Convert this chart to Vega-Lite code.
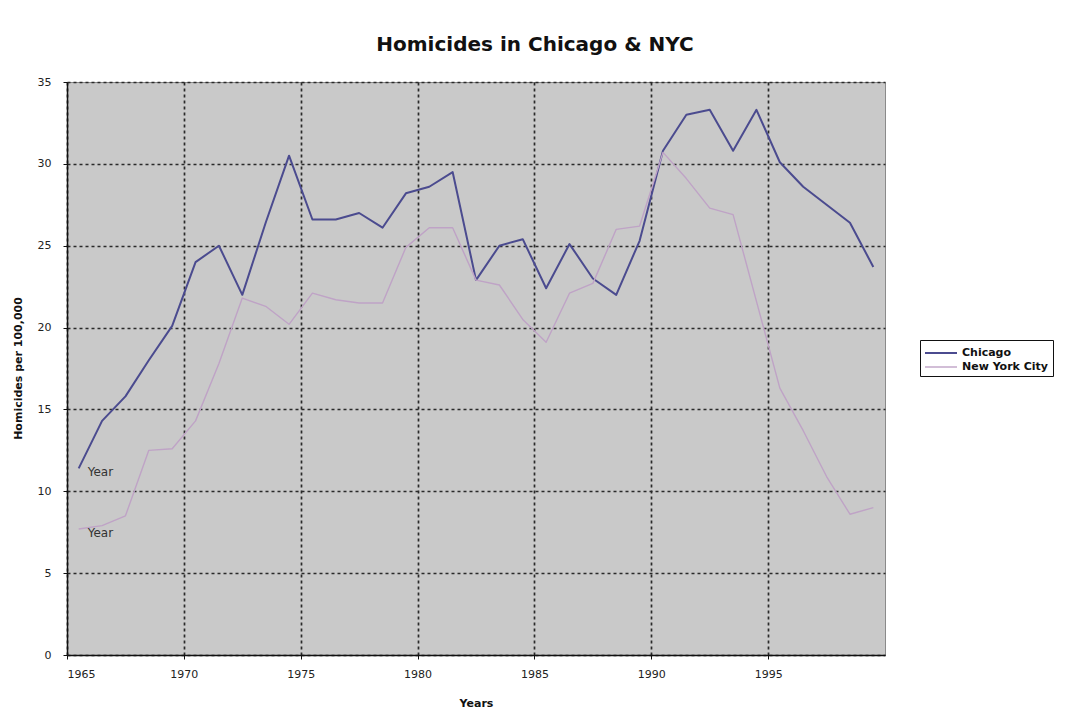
{
  "$schema": "https://vega.github.io/schema/vega-lite/v6.json",
  "autosize": "none",
  "width": 818,
  "height": 573,
  "padding": {"left": 67, "top": 82, "right": 180, "bottom": 58},
  "background": "white",
  "title": {
    "text": "Homicides in Chicago & NYC",
    "font": "DejaVu Sans",
    "fontSize": 20,
    "fontWeight": "bold",
    "color": "#111",
    "anchor": "middle",
    "dx": 59,
    "offset": 21
  },
  "config": {
    "view": {"fill": "#c9c9c9", "stroke": "#8a8a8a", "strokeWidth": 1},
    "axis": {
      "labelFont": "DejaVu Sans",
      "labelFontSize": 11,
      "labelColor": "#222",
      "titleFont": "DejaVu Sans",
      "titleFontSize": 11,
      "titleFontWeight": "bold",
      "titleColor": "#111",
      "domainColor": "#111",
      "domainWidth": 1.5,
      "tickColor": "#111",
      "tickSize": 4,
      "gridColor": "#2a2a2a",
      "gridWidth": 1.7,
      "gridDash": [3, 3],
      "gridOpacity": 1
    }
  },
  "data": {
    "values": [
      {"year": 1965, "city": "Chicago", "rate": 11.4},
      {"year": 1966, "city": "Chicago", "rate": 14.3},
      {"year": 1967, "city": "Chicago", "rate": 15.8},
      {"year": 1968, "city": "Chicago", "rate": 18.0},
      {"year": 1969, "city": "Chicago", "rate": 20.1},
      {"year": 1970, "city": "Chicago", "rate": 24.0},
      {"year": 1971, "city": "Chicago", "rate": 25.0},
      {"year": 1972, "city": "Chicago", "rate": 22.0},
      {"year": 1973, "city": "Chicago", "rate": 26.4},
      {"year": 1974, "city": "Chicago", "rate": 30.5},
      {"year": 1975, "city": "Chicago", "rate": 26.6},
      {"year": 1976, "city": "Chicago", "rate": 26.6},
      {"year": 1977, "city": "Chicago", "rate": 27.0},
      {"year": 1978, "city": "Chicago", "rate": 26.1},
      {"year": 1979, "city": "Chicago", "rate": 28.2},
      {"year": 1980, "city": "Chicago", "rate": 28.6},
      {"year": 1981, "city": "Chicago", "rate": 29.5},
      {"year": 1982, "city": "Chicago", "rate": 22.9},
      {"year": 1983, "city": "Chicago", "rate": 25.0},
      {"year": 1984, "city": "Chicago", "rate": 25.4},
      {"year": 1985, "city": "Chicago", "rate": 22.4},
      {"year": 1986, "city": "Chicago", "rate": 25.1},
      {"year": 1987, "city": "Chicago", "rate": 23.0},
      {"year": 1988, "city": "Chicago", "rate": 22.0},
      {"year": 1989, "city": "Chicago", "rate": 25.3},
      {"year": 1990, "city": "Chicago", "rate": 30.8},
      {"year": 1991, "city": "Chicago", "rate": 33.0},
      {"year": 1992, "city": "Chicago", "rate": 33.3},
      {"year": 1993, "city": "Chicago", "rate": 30.8},
      {"year": 1994, "city": "Chicago", "rate": 33.3},
      {"year": 1995, "city": "Chicago", "rate": 30.1},
      {"year": 1996, "city": "Chicago", "rate": 28.6},
      {"year": 1997, "city": "Chicago", "rate": 27.5},
      {"year": 1998, "city": "Chicago", "rate": 26.4},
      {"year": 1999, "city": "Chicago", "rate": 23.7},
      {"year": 1965, "city": "New York City", "rate": 7.7},
      {"year": 1966, "city": "New York City", "rate": 7.9},
      {"year": 1967, "city": "New York City", "rate": 8.5},
      {"year": 1968, "city": "New York City", "rate": 12.5},
      {"year": 1969, "city": "New York City", "rate": 12.6},
      {"year": 1970, "city": "New York City", "rate": 14.3},
      {"year": 1971, "city": "New York City", "rate": 17.8},
      {"year": 1972, "city": "New York City", "rate": 21.8},
      {"year": 1973, "city": "New York City", "rate": 21.3},
      {"year": 1974, "city": "New York City", "rate": 20.2},
      {"year": 1975, "city": "New York City", "rate": 22.1},
      {"year": 1976, "city": "New York City", "rate": 21.7},
      {"year": 1977, "city": "New York City", "rate": 21.5},
      {"year": 1978, "city": "New York City", "rate": 21.5},
      {"year": 1979, "city": "New York City", "rate": 24.9},
      {"year": 1980, "city": "New York City", "rate": 26.1},
      {"year": 1981, "city": "New York City", "rate": 26.1},
      {"year": 1982, "city": "New York City", "rate": 22.9},
      {"year": 1983, "city": "New York City", "rate": 22.6},
      {"year": 1984, "city": "New York City", "rate": 20.5},
      {"year": 1985, "city": "New York City", "rate": 19.1},
      {"year": 1986, "city": "New York City", "rate": 22.1},
      {"year": 1987, "city": "New York City", "rate": 22.7},
      {"year": 1988, "city": "New York City", "rate": 26.0},
      {"year": 1989, "city": "New York City", "rate": 26.2},
      {"year": 1990, "city": "New York City", "rate": 30.7},
      {"year": 1991, "city": "New York City", "rate": 29.1},
      {"year": 1992, "city": "New York City", "rate": 27.3},
      {"year": 1993, "city": "New York City", "rate": 26.9},
      {"year": 1994, "city": "New York City", "rate": 21.6},
      {"year": 1995, "city": "New York City", "rate": 16.3},
      {"year": 1996, "city": "New York City", "rate": 13.7},
      {"year": 1997, "city": "New York City", "rate": 10.9},
      {"year": 1998, "city": "New York City", "rate": 8.6},
      {"year": 1999, "city": "New York City", "rate": 9.0}
    ]
  },
  "encoding": {
    "x": {
      "field": "year",
      "type": "quantitative",
      "scale": {"domain": [1965, 2000], "nice": false, "zero": false},
      "axis": {
        "title": "Years",
        "values": [1965, 1970, 1975, 1980, 1985, 1990, 1995],
        "format": "d",
        "labelPadding": 9,
        "titleY": 48,
        "titleBaseline": "middle"
      }
    },
    "y": {
      "field": "rate",
      "type": "quantitative",
      "scale": {"domain": [0, 35], "nice": false},
      "axis": {
        "title": "Homicides per 100,000",
        "values": [0, 5, 10, 15, 20, 25, 30, 35],
        "labelPadding": 12,
        "titleX": -49,
        "titleY": 286,
        "titleAlign": "center",
        "titleBaseline": "middle",
        "titleAngle": -90
      }
    }
  },
  "layer": [
    {
      "mark": {"type": "line", "xOffset": 11.7, "strokeJoin": "round"},
      "encoding": {
        "color": {
          "field": "city",
          "type": "nominal",
          "scale": {"domain": ["Chicago", "New York City"], "range": ["#4b4b8f", "#bfa3c6"]},
          "legend": {
            "title": null,
            "orient": "none",
            "legendX": 853,
            "legendY": 258,
            "symbolType": "M-2,0H2",
            "symbolSize": 256,
            "symbolStrokeWidth": 1.5,
            "symbolOffset": 8,
            "labelFont": "DejaVu Sans",
            "labelFontSize": 11,
            "labelFontWeight": "bold",
            "labelColor": "#111",
            "strokeColor": "#111",
            "fillColor": "white",
            "padding": 4,
            "rowPadding": 0,
            "labelOffset": 12
          }
        },
        "strokeWidth": {
          "field": "city",
          "type": "nominal",
          "scale": {"domain": ["Chicago", "New York City"], "range": [2, 1.4]},
          "legend": null
        }
      }
    },
    {
      "transform": [{"filter": "datum.year == 1965"}],
      "mark": {
        "type": "text",
        "text": "Year",
        "xOffset": 11.7,
        "dx": 9,
        "dy": 4,
        "align": "left",
        "baseline": "middle",
        "font": "DejaVu Sans",
        "fontSize": 12,
        "color": "#333"
      }
    }
  ]
}
